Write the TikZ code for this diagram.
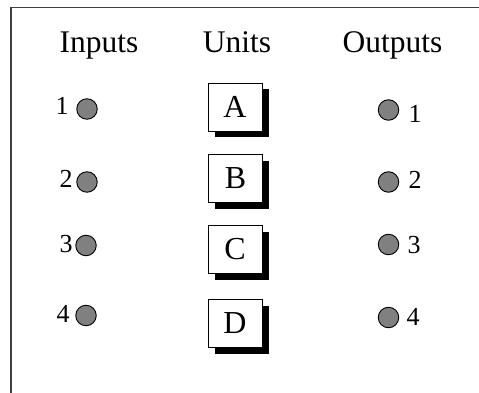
\documentclass[tikz,border=0pt]{standalone}
\usepackage{fontspec}
\setmainfont{Liberation Serif}
\usetikzlibrary{shadows}
\begin{document}
\begin{tikzpicture}[x=1pt,y=-1pt,
  header/.style={font=\fontsize{31.5}{36}\selectfont, anchor=base, inner sep=0},
  num/.style={font=\fontsize{26}{30}\selectfont, inner sep=0},
  port/.style={circle, draw=black, line width=0.9pt, fill=black!50, minimum size=20.5pt, inner sep=0},
  unitbox/.style={draw=black, line width=0.9pt, fill=white, minimum width=54pt, minimum height=48pt, inner sep=0,
    font=\fontsize{32}{36}\selectfont,
    general shadow={fill=black, shadow xshift=6.5pt, shadow yshift=-6.5pt}},
  frame/.style={draw=black!75, line width=1.8pt}
]
\useasboundingbox (0,0) rectangle (479,393);
\coordinate (fbl) at (11,393);
\coordinate (ftl) at (11,7.5);
\coordinate (ftr) at (479,7.5);
\draw[frame] (fbl) -- (ftl) -- (ftr);

\node[header] (hin) at (99,53) {Inputs};
\node[header] (hun) at (237,53) {Units};
\node[header] (hout) at (392.5,53) {Outputs};

% inputs
\node[port] (i1) at (87,109) {};
\node[port] (i2) at (87,182) {};
\node[port] (i3) at (86,245.5) {};
\node[port] (i4) at (86,315.5) {};
\node[num] (li1) at (62,106) {1};
\node[num] (li2) at (66,179) {2};
\node[num] (li3) at (66,244) {3};
\node[num] (li4) at (63,314) {4};

% units
\node[unitbox] (ua) at (235,107) {A};
\node[unitbox] (ub) at (235.5,178.5) {B};
\node[unitbox] (uc) at (235,249.5) {C};
\node[unitbox] (ud) at (235,323) {D};

% outputs
\node[port] (o1) at (388.5,110) {};
\node[port] (o2) at (388.5,182) {};
\node[port] (o3) at (388.5,244.5) {};
\node[port] (o4) at (388.5,317.5) {};
\node[num] (lo1) at (415,114) {1};
\node[num] (lo2) at (415,180) {2};
\node[num] (lo3) at (414,245) {3};
\node[num] (lo4) at (413,317) {4};
\end{tikzpicture}
\end{document}
